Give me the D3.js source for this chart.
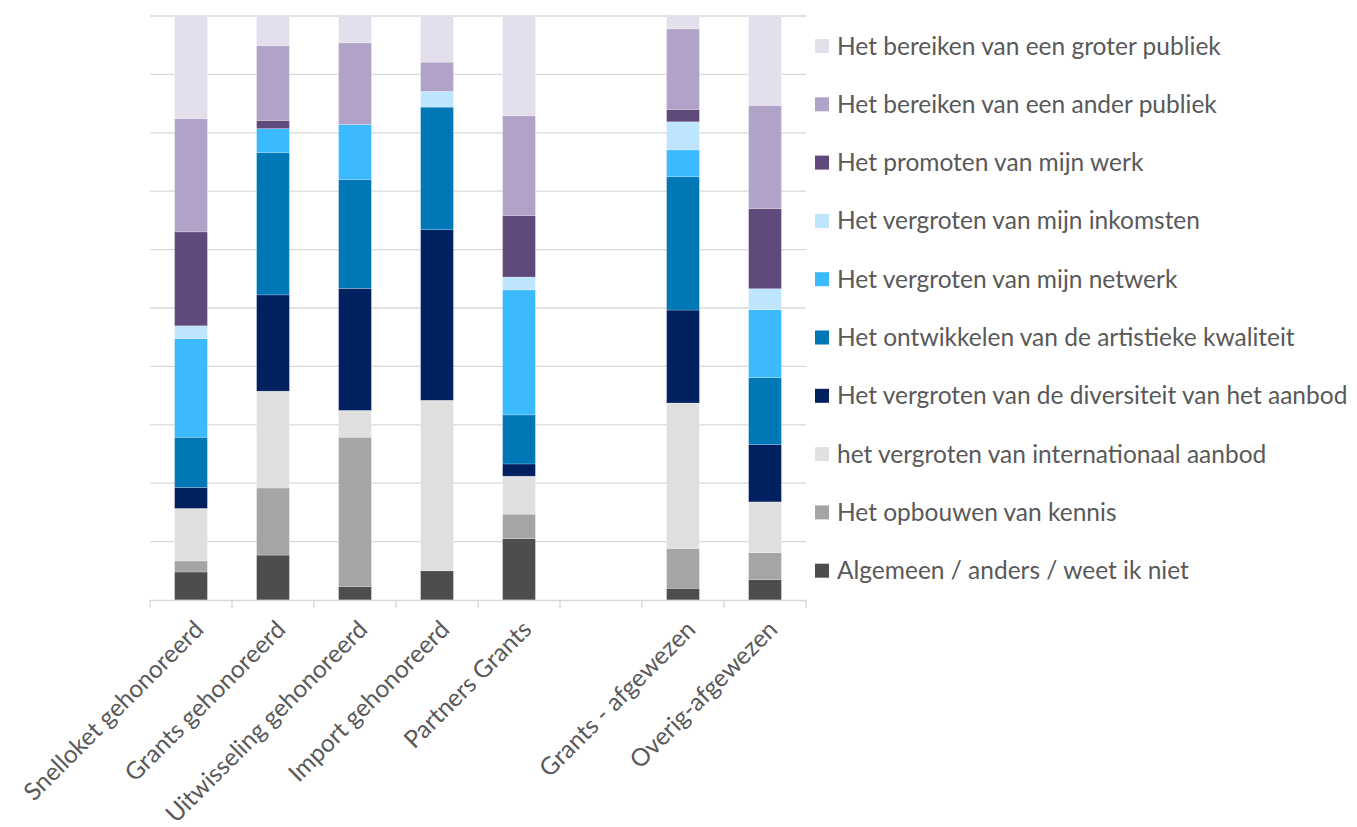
<!DOCTYPE html>
<html>
<head>
<meta charset="utf-8">
<script src="https://cdn.jsdelivr.net/npm/d3@7"></script>
<style>
  html, body { margin: 0; padding: 0; background: #fff; }
  svg { display: block; }
  text { font-family: Lato, "Open Sans", "Noto Sans", sans-serif; fill: #595959; }
</style>
</head>
<body>
<svg id="chart" width="1357" height="827"></svg>
<script>
const categories = ["Snelloket gehonoreerd", "Grants gehonoreerd", "Uitwisseling gehonoreerd", "Import gehonoreerd", "Partners Grants", "", "Grants - afgewezen", "Overig-afgewezen"];

// series listed bottom-to-top of the stack
const seriesNames = [
  "Algemeen / anders / weet ik niet",
  "Het opbouwen van kennis",
  "het vergroten van internationaal aanbod",
  "Het vergroten van de diversiteit van het aanbod",
  "Het ontwikkelen van de artistieke kwaliteit",
  "Het vergroten van mijn netwerk",
  "Het vergroten van mijn inkomsten",
  "Het promoten van mijn werk",
  "Het bereiken van een ander publiek",
  "Het bereiken van een groter publiek"
];
const seriesColors = ["#4d4d4d", "#a5a5a5", "#e0e0e0", "#002060", "#0077b6", "#3bbaff", "#bde5fd", "#604a7b", "#b1a2c8", "#e4dfec"];

// values (%) per category, same order as categories
const algemeen      = [4.8, 7.7, 2.3, 5.0, 10.5, 0, 2.0, 3.5];
const kennis        = [1.9, 11.5, 25.6, 0.0, 4.2, 0, 6.8, 4.6];
const internationaal= [9.0, 16.6, 4.6, 29.2, 6.5, 0, 24.9, 8.7];
const diversiteit   = [3.6, 16.5, 20.9, 29.2, 2.1, 0, 15.9, 9.8];
const ontwikkelen   = [8.6, 24.4, 18.7, 21.0, 8.4, 0, 22.8, 11.5];
const netwerk       = [16.9, 4.1, 9.4, 0.0, 21.4, 0, 4.6, 11.6];
const inkomsten     = [2.2, 0.0, 0.0, 2.7, 2.2, 0, 4.8, 3.6];
const promoten      = [16.1, 1.4, 0.0, 0.0, 10.5, 0, 2.1, 13.7];
const anderPubliek  = [19.4, 12.8, 14.0, 5.0, 17.1, 0, 13.8, 17.7];
const groterPubliek = [17.6, 5.1, 4.6, 7.9, 17.1, 0, 2.2, 15.3];

const seriesValues = [algemeen, kennis, internationaal, diversiteit, ontwikkelen, netwerk, inkomsten, promoten, anderPubliek, groterPubliek];

const yTicks = [0, 10, 20, 30, 40, 50, 60, 70, 80, 90, 100];

// build table
const keys = seriesNames;
const rows = categories.map((c, i) => {
  const r = { cat: c, idx: i };
  seriesNames.forEach((s, j) => { r[s] = seriesValues[j][i]; });
  return r;
});
rows.forEach(r => { r.total = d3.sum(keys, k => r[k]); });

const svg = d3.select("#chart");
const plotLeft = 150, plotRight = 806, plotTop = 16, plotBottom = 600;

const x = d3.scaleBand().domain(d3.range(categories.length)).range([plotLeft, plotRight]).paddingInner(0.6).paddingOuter(0.3);
const xb = d3.scaleBand().domain(d3.range(categories.length)).range([plotLeft, plotRight]);
const y = d3.scaleLinear().domain([0, 100]).range([plotBottom, plotTop]);

// gridlines
svg.append("g").selectAll("line").data(yTicks.slice(1)).join("line")
  .attr("x1", plotLeft).attr("x2", plotRight)
  .attr("y1", d => y(d)).attr("y2", d => y(d))
  .attr("stroke", "#d9d9d9").attr("stroke-width", 1.3);

// stacks (normalize to 100%)
const stack = d3.stack().keys(keys).value((d, k) => d.total > 0 ? d[k] / d.total * 100 : 0);
const stacked = stack(rows);

svg.append("g").selectAll("g").data(stacked).join("g")
  .attr("fill", (d, i) => seriesColors[i])
  .selectAll("rect").data(d => d).join("rect")
  .attr("x", d => x(d.data.idx))
  .attr("width", x.bandwidth())
  .attr("y", d => y(d[1]))
  .attr("height", d => Math.max(0, y(d[0]) - y(d[1])))
  .attr("stroke", "#ffffff").attr("stroke-opacity", 0.35).attr("stroke-width", 0.6);

// x axis line and ticks
const boundaries = d3.range(categories.length + 1).map(i => plotLeft + i * xb.step());
svg.append("line").attr("x1", plotLeft).attr("x2", plotRight).attr("y1", plotBottom + 0.5).attr("y2", plotBottom + 0.5)
  .attr("stroke", "#d9d9d9").attr("stroke-width", 1.3);
svg.append("g").selectAll("line").data(boundaries).join("line")
  .attr("x1", d => d).attr("x2", d => d).attr("y1", plotBottom).attr("y2", plotBottom + 8)
  .attr("stroke", "#d9d9d9").attr("stroke-width", 1.3);

// x labels
svg.append("g").selectAll("text").data(categories).join("text")
  .attr("transform", (d, i) => `translate(${xb(i) + xb.bandwidth() / 2 + 14},${plotBottom + 31}) rotate(-45)`)
  .attr("text-anchor", "end")
  .attr("font-size", 24.5)
  .text(d => d);

// legend (top to bottom: reverse order)
const legendItems = seriesNames.map((s, i) => ({ name: s, color: seriesColors[i] })).reverse();
const lg = svg.append("g");
const leg = lg.selectAll("g").data(legendItems).join("g")
  .attr("transform", (d, i) => `translate(815, ${46 + i * 58.3})`);
leg.append("rect").attr("x", 0).attr("y", -7).attr("width", 14).attr("height", 14).attr("fill", d => d.color);
leg.append("text").attr("x", 22).attr("y", 0).attr("dy", "0.35em").attr("font-size", 24.5).text(d => d.name);
</script>
</body>
</html>
